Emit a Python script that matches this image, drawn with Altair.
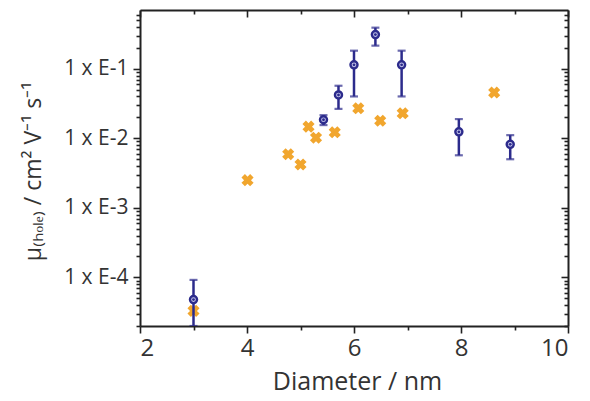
import altair as alt
import pandas as pd

# ---- data ----
blue_x = [3.0, 5.43, 5.71, 6.0, 6.4, 6.89, 7.96, 8.92]
blue_y = [4.8e-5, 1.85e-2, 4.2e-2, 0.114, 0.31, 0.114, 0.0124, 0.0082]
blue_hi = [9.2e-5, 2.15e-2, 5.7e-2, 0.182, 0.39, 0.182, 0.0189, 0.0111]
blue_lo = [2.0e-5, 1.55e-2, 2.65e-2, 0.040, 0.215, 0.040, 0.0057, 0.0050]

orange_x = [3.0, 4.01, 4.77, 5.0, 5.15, 5.29, 5.64, 6.08, 6.49, 6.91, 8.62]
orange_y = [3.3e-5, 2.5e-3, 5.9e-3, 4.2e-3, 1.47e-2, 1.02e-2, 1.22e-2, 2.7e-2, 1.79e-2, 2.29e-2, 4.55e-2]

x_ticks = [2, 3, 4, 5, 6, 7, 8, 9, 10]
y_ticks = [m * 10.0 ** e for e in range(-5, 0) for m in range(1, 10) if 2e-5 <= m * 10.0 ** e <= 0.7]

x_title = "Diameter / nm"
y_title = "μ₍ₕₒₗₑ₎ / cm² V⁻¹ s⁻¹"

blue_df = pd.DataFrame({"d": blue_x, "mu": blue_y, "lo": blue_lo, "hi": blue_hi})
orange_df = pd.DataFrame({"d": orange_x, "mu": orange_y})

BLUE = "#2c2b8c"
ORANGE = "#f1a62e"
FONT = "Open Sans"

xscale = alt.Scale(domain=[2, 10], nice=False, zero=False)
yscale = alt.Scale(type="log", domain=[2e-5, 0.7], nice=False)

is_major_y = "abs(log(datum.value)/LN10 - round(log(datum.value)/LN10)) < 0.001"
is_major_x = "datum.value % 2 == 0"

x_axis = alt.Axis(
    values=x_ticks,
    labelExpr=f"{is_major_x} ? datum.label : ''",
    title=x_title,
    tickSize={"condition": {"test": is_major_x, "value": 7}, "value": 4},
    labelPadding=3,
    labelFontSize=24,
    titleFontSize=25,
    titleFontWeight="normal",
    titleX=217,
    titleY=63,
    titleBaseline="alphabetic",
    titleAnchor="middle",
    titleAlign="center",
    grid=False,
)
y_axis = alt.Axis(
    values=y_ticks,
    labelExpr=f"{is_major_y} ? '1 x E' + round(log(datum.value)/LN10) : ''",
    title=y_title,
    tickSize={"condition": {"test": is_major_y, "value": 7}, "value": 4},
    labelPadding=5,
    labelFontSize=21,
    titleFontSize=23,
    titleFontWeight="normal",
    titleAngle=270,
    titleX=-100,
    titleY=161,
    titleAlign="center",
    titleBaseline="alphabetic",
    grid=False,
)

x_none = alt.X("d:Q", scale=xscale, axis=None)

stems = alt.Chart(blue_df).mark_rule(color=BLUE, strokeWidth=2.5, clip=True).encode(
    x=x_none, y=alt.Y("lo:Q", scale=yscale, axis=None), y2="hi:Q"
)
caps_lo = alt.Chart(blue_df).mark_tick(orient="horizontal", color=BLUE, size=8, thickness=2.2, clip=True).encode(
    x=x_none, y=alt.Y("lo:Q", scale=yscale, axis=None)
)
caps_hi = alt.Chart(blue_df).mark_tick(orient="horizontal", color=BLUE, size=8, thickness=2.2, clip=True).encode(
    x=x_none, y=alt.Y("hi:Q", scale=yscale, axis=None)
)
oranges = alt.Chart(orange_df).mark_point(
    shape="cross", angle=45, filled=True, color=ORANGE, size=150, opacity=1, clip=True
).encode(
    x=alt.X("d:Q", scale=xscale, axis=x_axis),
    y=alt.Y("mu:Q", scale=yscale, axis=y_axis),
)
circles = alt.Chart(blue_df).mark_point(
    shape="circle", filled=True, fill="#c9caee", stroke=BLUE, strokeWidth=2.4, size=50, opacity=1, clip=True
).encode(x=x_none, y=alt.Y("mu:Q", scale=yscale, axis=None))
dots = alt.Chart(blue_df).mark_point(
    shape="circle", filled=True, color=BLUE, size=8, opacity=1, clip=True
).encode(x=x_none, y=alt.Y("mu:Q", scale=yscale, axis=None))

frame = alt.Chart(orange_df).mark_point(opacity=0).encode(
    x=alt.X("d:Q", scale=xscale, axis=alt.Axis(
        orient="top", values=x_ticks, labels=False, title=None, grid=False,
        tickSize={"condition": {"test": is_major_x, "value": -7}, "value": -4},
    )),
    y=alt.Y("mu:Q", scale=yscale, axis=alt.Axis(
        orient="right", values=y_ticks, labels=False, title=None, grid=False,
        tickSize={"condition": {"test": is_major_y, "value": -7}, "value": -4},
    )),
)

chart = (
    alt.layer(oranges, stems, caps_lo, caps_hi, circles, dots, frame)
    .resolve_axis(x="independent", y="independent")
    .properties(
        width=428,
        height=316,
        autosize=alt.AutoSizeParams(type="none"),
        padding={"left": 132, "top": 2, "right": 14, "bottom": 74},
        background="#ffffff",
    )
    .configure_view(stroke=None)
    .configure_axis(
        domainColor="#222222",
        domainWidth=2,
        tickColor="#222222",
        tickWidth=1.6,
        labelColor="#333333",
        titleColor="#333333",
        labelFont=FONT,
        titleFont=FONT,
    )
)

chart.save("out.html", embed_options={"renderer": "svg", "actions": False})
